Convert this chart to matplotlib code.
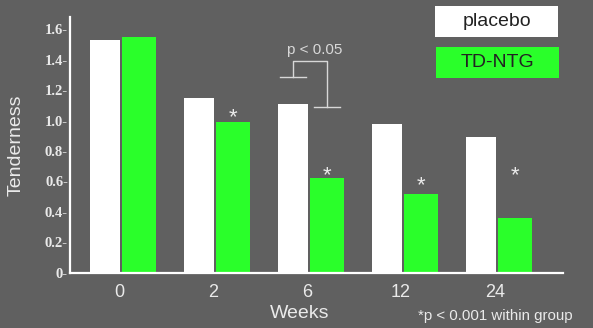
import matplotlib.pyplot as plt
from matplotlib.patches import Rectangle
import numpy as np

weeks = ["0", "2", "6", "12", "24"]
placebo = [1.53, 1.15, 1.11, 0.98, 0.89]
td_ntg = [1.55, 0.99, 0.62, 0.52, 0.36]
yticks = [0, 0.2, 0.4, 0.6, 0.8, 1.0, 1.2, 1.4, 1.6]
ytick_labels = ["0-", "0.2-", "0.4-", "0.6-", "0.8-", "1.0-", "1.2-", "1.4-", "1.6-"]
# groups marked with * (p < 0.001 within group)
starred = [1, 2, 3, 4]

bg = '#606060'
green = '#2aff2a'
fg = '#eaeaea'
sans = 'Liberation Sans'

fig = plt.figure(figsize=(5.93, 3.28), dpi=100, facecolor=bg)
ax = fig.add_axes([0.118, 0.168, 0.831, 0.780], facecolor=bg)

x = np.arange(len(weeks))
ax.bar(x - 0.33, placebo, width=0.32, align='edge', color='white', zorder=1)
ax.bar(x + 0.01, td_ntg, width=0.36, align='edge', color=green, zorder=1)

# stars above the TD-NTG bars
star_gap = [0.03, 0.02, 0.05, 0.28]
for i, g in zip(starred, star_gap):
    ax.text(x[i] + 0.19, td_ntg[i] + g, '*', color=fg, fontsize=16,
            family=sans, ha='center', va='center')

# p < 0.05 bracket at week 6
lc = '#d8d8d8'
xl, xr = x[2] - 0.17, x[2] + 0.19
ax.plot([xl, xl, xr, xr], [1.285, 1.39, 1.39, 1.089], color=lc, lw=1, zorder=3)
ax.plot([xl - 0.135, xl + 0.135], [1.285, 1.285], color=lc, lw=1, zorder=3)
ax.plot([xr - 0.14, xr + 0.14], [1.089, 1.089], color=lc, lw=1, zorder=3)
ax.text(x[2] + 0.06, 1.462, 'p < 0.05', color=lc, fontsize=11, family=sans,
        ha='center', va='center')

ax.set_xlim(-0.543, 4.70)
ax.set_ylim(0, 1.679)
ax.set_xticks(x - 0.02)
ax.set_xticklabels(weeks, color=fg, fontsize=13, family=sans)
ax.tick_params(axis='x', length=0, pad=8)
ax.set_yticks(yticks)
ax.set_yticklabels(ytick_labels, color=fg, fontsize=10.5,
                   family='Liberation Serif', fontweight='bold')
ax.tick_params(axis='y', length=0, pad=1.5)
for s in ['top', 'right']:
    ax.spines[s].set_visible(False)
for s in ['left', 'bottom']:
    ax.spines[s].set_color('white')
    ax.spines[s].set_linewidth(1.6)
    ax.spines[s].set_zorder(2)

fig.text(0.027, 1 - 145 / 328, 'Tenderness', rotation=90, color=fg,
         fontsize=14, family=sans, ha='center', va='center')
fig.text(0.506, 1 - 314 / 328, 'Weeks', color=fg, fontsize=14, family=sans,
         ha='center', va='center')
fig.text(0.705, 1 - 316 / 328, '*p < 0.001 within group', color=fg,
         fontsize=10.8, family=sans, ha='left', va='center')

# legend boxes
for (x0, y0), fc, label in [((0.7336, 0.8872), 'white', 'placebo'),
                            ((0.7352, 0.7622), green, 'TD-NTG')]:
    fig.patches.append(Rectangle((x0, y0), 0.2074, 0.0945, facecolor=fc,
                                 edgecolor='none', transform=fig.transFigure))
    fig.text(x0 + 0.1037, y0 + 0.047, label, color='#222222', fontsize=14,
             family=sans, ha='center', va='center')

fig.savefig('out.png', dpi=100, facecolor=bg)
